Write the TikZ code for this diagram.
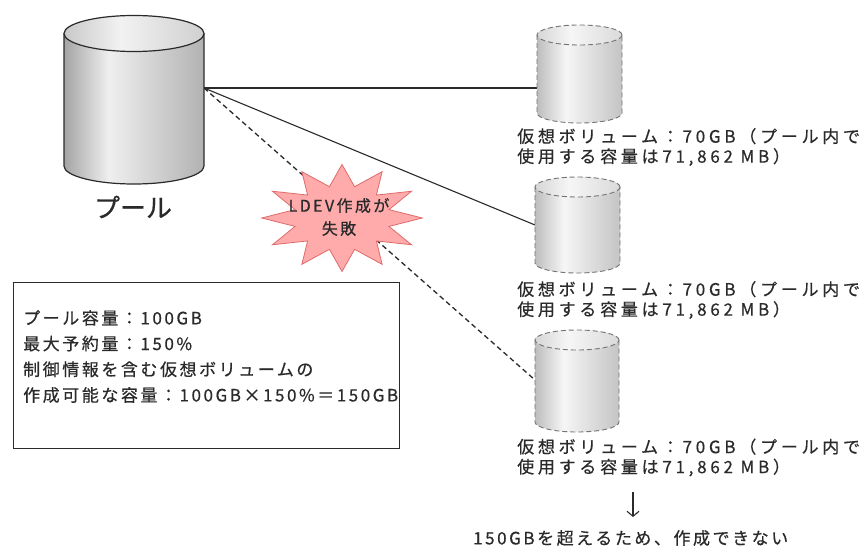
\documentclass[tikz,border=0pt]{standalone}
\usepackage{fontspec}
\setmainfont{Noto Sans CJK JP}
\newfontfamily\jp[LetterSpace=15,FakeBold=0.5]{Noto Sans CJK JP}
\newfontfamily\jpw[LetterSpace=22,FakeBold=0.5]{Noto Sans CJK JP}
\newfontfamily\jpb[FakeBold=0.5]{Noto Sans CJK JP}
\usetikzlibrary{shapes.geometric,arrows.meta}
\definecolor{txt}{HTML}{2A2A2A}
\definecolor{lin}{HTML}{2A2A2A}
\definecolor{starfill}{HTML}{FFABAB}
\definecolor{stardraw}{HTML}{E06A6A}
\definecolor{cyA}{HTML}{A4A4A4}
\definecolor{cyB}{HTML}{EFEFEF}
\definecolor{cyC}{HTML}{B2B2B2}
\definecolor{ctA}{HTML}{C8C8C8}
\definecolor{ctB}{HTML}{F2F2F2}
\definecolor{ctC}{HTML}{D0D0D0}
\definecolor{vyA}{HTML}{BDBDBD}
\definecolor{vyB}{HTML}{F6F6F6}
\definecolor{vyC}{HTML}{C4C4C4}
\definecolor{vtA}{HTML}{D6D6D6}
\definecolor{vtB}{HTML}{F6F6F6}
\definecolor{vtC}{HTML}{DADADA}
\pgfdeclarehorizontalshading{cylbody}{100bp}{color(0bp)=(cyA); color(25bp)=(cyA); color(41bp)=(cyB); color(75bp)=(cyC); color(100bp)=(cyC)}
\pgfdeclarehorizontalshading{cyltop}{100bp}{color(0bp)=(ctA); color(25bp)=(ctA); color(45bp)=(ctB); color(75bp)=(ctC); color(100bp)=(ctC)}
\pgfdeclarehorizontalshading{volbody}{100bp}{color(0bp)=(vyA); color(25bp)=(vyA); color(42bp)=(vyB); color(75bp)=(vyC); color(100bp)=(vyC)}
\pgfdeclarehorizontalshading{voltop}{100bp}{color(0bp)=(vtA); color(25bp)=(vtA); color(45bp)=(vtB); color(75bp)=(vtC); color(100bp)=(vtC)}
% #1 cx, #2 top y, #3 bottom y, #4 rx, #5 ry, #6 line style, #7 body shading, #8 top shading
\newcommand\mycyl[8]{%
  \path[shading=#7] (#1-#4,#2) -- (#1-#4,#3) arc[start angle=180,end angle=360,x radius=#4,y radius=#5] -- (#1+#4,#2) arc[start angle=0,end angle=180,x radius=#4,y radius=#5] -- cycle;
  \draw[#6] (#1-#4,#2) -- (#1-#4,#3) arc[start angle=180,end angle=360,x radius=#4,y radius=#5] -- (#1+#4,#2);
  \draw[#6, shading=#8] (#1,#2) ellipse[x radius=#4, y radius=#5];
}
\tikzset{
  poolline/.style={draw=lin, line width=1.2pt},
  volline/.style={draw=black!55, line width=0.9pt, dash pattern=on 5pt off 3pt},
  lbl/.style={text=txt, font=\jp\fontsize{17}{20}\selectfont, align=left, inner sep=0pt},
  vlbl/.style={text=txt, font=\jpw\fontsize{17}{20}\selectfont, align=left, inner sep=0pt},
  conn/.style={draw=lin, line width=1.1pt},
  dconn/.style={draw=lin, line width=1.3pt, dash pattern=on 5pt off 3.5pt},
}
\begin{document}
\begin{tikzpicture}[x=1pt,y=1pt]
\useasboundingbox[fill=white] (0,0) rectangle (861,-548);
% connection points
\coordinate (poolR) at (204,-88);
\coordinate (v1L) at (537,-88);
\coordinate (v2L) at (535,-225);
\coordinate (v3L) at (535,-380);
% connectors
\draw[conn] (poolR) -- (v1L);
\draw[conn] (poolR) -- (v2L);
\draw[dconn] (poolR) -- (v3L);
% cylinders
\mycyl{134}{-33.5}{-166}{70}{18}{poolline}{cylbody}{cyltop}
\mycyl{579.5}{-35}{-113}{42.5}{10}{volline}{volbody}{voltop}
\mycyl{577.5}{-187}{-263}{42.5}{10}{volline}{volbody}{voltop}
\mycyl{577}{-340}{-422}{42}{10}{volline}{volbody}{voltop}
% pool label
\node[text=txt, font=\jpb\fontsize{26}{30}\selectfont, inner sep=0pt] (poollbl) at (133,-207) {プール};
% burst
\node[star, star points=12, star point ratio=1.65, fill=starfill, draw=stardraw, line width=0.8pt, minimum size=107pt, inner sep=0pt, xscale=1.5] (burst) at (342,-218) {};
\node[text=txt, font=\jp\fontsize{16}{23}\selectfont, align=center, inner sep=0pt] (bursttxt) at (339,-217) {LDEV作成が\\失敗};
% volume labels
\node[vlbl, anchor=west] (lab1) at (517,-147) {仮想ボリューム：70GB（プール内で\\使用する容量は71,862 MB）};
\node[vlbl, anchor=west] (lab2) at (517,-300) {仮想ボリューム：70GB（プール内で\\使用する容量は71,862 MB）};
\node[vlbl, anchor=west] (lab3) at (517,-457.5) {仮想ボリューム：70GB（プール内で\\使用する容量は71,862 MB）};
% info box
\node[draw=lin, line width=1.2pt, minimum width=386pt, minimum height=166pt, inner sep=0pt, anchor=north west] (infobox) at (13,-282) {};
\node[lbl, font=\jp\fontsize{17}{25.7}\selectfont, anchor=west] (infotxt) at (23,-356.5) {プール容量：100GB\\最大予約量：150\%\\制御情報を含む仮想ボリュームの\\作成可能な容量：100GB×150\%＝150GB};
% result
\coordinate (arrS) at (633,-492);
\coordinate (arrE) at (633,-517);
\draw[conn, -{Straight Barb[length=5pt,width=12pt]}] (arrS) -- (arrE);
\node[lbl, anchor=west] (note) at (473,-538) {150GBを超えるため、作成できない};
\end{tikzpicture}
\end{document}
